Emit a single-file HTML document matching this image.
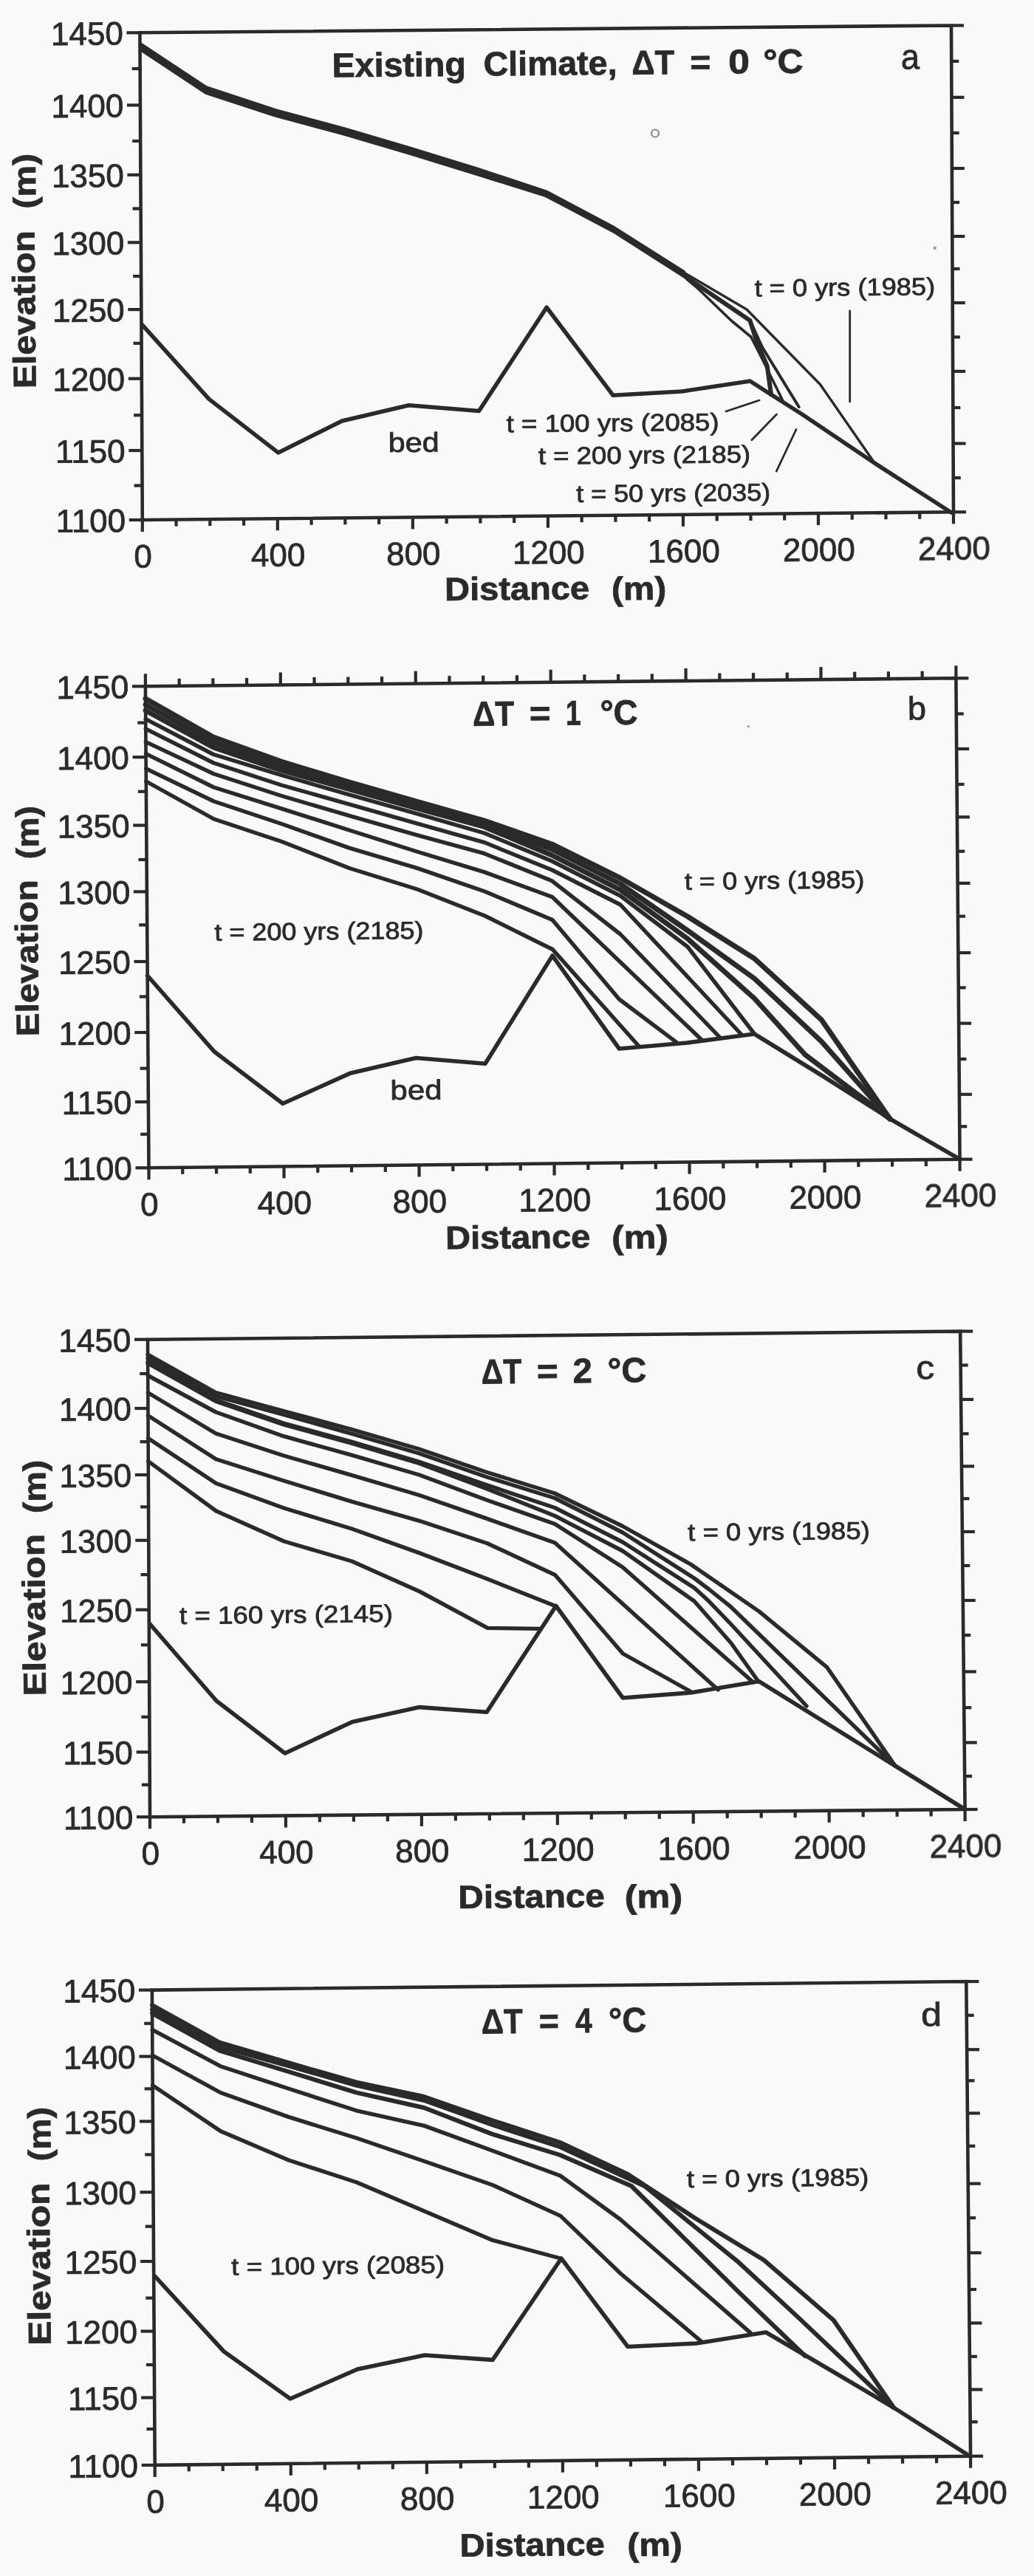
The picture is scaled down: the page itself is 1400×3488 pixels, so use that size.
<!DOCTYPE html>
<html><head><meta charset="utf-8"><style>
html,body{margin:0;padding:0;background:#f8f9f8;}
svg{display:block;}
text{font-family:"Liberation Sans",sans-serif;}
</style></head><body>
<svg width="1400" height="3488" viewBox="0 0 1400 3488">
<defs><filter id="soft" x="0" y="0" width="1" height="1"><feGaussianBlur stdDeviation="0.45"/></filter></defs>
<rect width="1400" height="3488" fill="#f8f9f8"/>
<g filter="url(#soft)">
<g stroke="#2b2b2b" stroke-linecap="butt" fill="none">
<polygon points="189.4,44.3 1288,34.5 1291,693.3 192.8,704" stroke-width="4.6" stroke-linejoin="miter"/>
<line x1="171.4" y1="44.3" x2="189.4" y2="44.3" stroke-width="4.2"/>
<line x1="178.65" y1="93" x2="189.65" y2="93" stroke-width="4.2"/>
<line x1="171.91" y1="142.4" x2="189.91" y2="142.4" stroke-width="4.2"/>
<line x1="179.16" y1="191" x2="190.16" y2="191" stroke-width="4.2"/>
<line x1="172.39" y1="236.8" x2="190.39" y2="236.8" stroke-width="4.2"/>
<line x1="179.63" y1="282.5" x2="190.63" y2="282.5" stroke-width="4.2"/>
<line x1="172.86" y1="328.3" x2="190.86" y2="328.3" stroke-width="4.2"/>
<line x1="180.1" y1="374" x2="191.1" y2="374" stroke-width="4.2"/>
<line x1="173.33" y1="419.1" x2="191.33" y2="419.1" stroke-width="4.2"/>
<line x1="180.57" y1="464.8" x2="191.57" y2="464.8" stroke-width="4.2"/>
<line x1="173.81" y1="512.7" x2="191.81" y2="512.7" stroke-width="4.2"/>
<line x1="181.07" y1="562.2" x2="192.07" y2="562.2" stroke-width="4.2"/>
<line x1="174.32" y1="610" x2="192.32" y2="610" stroke-width="4.2"/>
<line x1="181.56" y1="657.5" x2="192.56" y2="657.5" stroke-width="4.2"/>
<line x1="174.8" y1="704" x2="192.8" y2="704" stroke-width="4.2"/>
<line x1="1288" y1="34.5" x2="1305" y2="34.5" stroke-width="4.2"/>
<line x1="1288.22" y1="82.9" x2="1298.22" y2="82.9" stroke-width="4.2"/>
<line x1="1288.44" y1="131.8" x2="1305.44" y2="131.8" stroke-width="4.2"/>
<line x1="1288.66" y1="180" x2="1298.66" y2="180" stroke-width="4.2"/>
<line x1="1288.88" y1="228" x2="1305.88" y2="228" stroke-width="4.2"/>
<line x1="1289.09" y1="274" x2="1299.09" y2="274" stroke-width="4.2"/>
<line x1="1289.3" y1="320" x2="1306.3" y2="320" stroke-width="4.2"/>
<line x1="1289.5" y1="364" x2="1299.5" y2="364" stroke-width="4.2"/>
<line x1="1289.71" y1="410" x2="1306.71" y2="410" stroke-width="4.2"/>
<line x1="1289.92" y1="456.4" x2="1299.92" y2="456.4" stroke-width="4.2"/>
<line x1="1290.13" y1="502.8" x2="1307.13" y2="502.8" stroke-width="4.2"/>
<line x1="1290.36" y1="552" x2="1300.36" y2="552" stroke-width="4.2"/>
<line x1="1290.58" y1="600.5" x2="1307.58" y2="600.5" stroke-width="4.2"/>
<line x1="1290.79" y1="647" x2="1300.79" y2="647" stroke-width="4.2"/>
<line x1="1291" y1="693.3" x2="1308" y2="693.3" stroke-width="4.2"/>
<line x1="192.8" y1="704" x2="192.8" y2="720" stroke-width="4.2"/>
<line x1="238.56" y1="703.55" x2="238.56" y2="712.55" stroke-width="4.2"/>
<line x1="284.32" y1="703.11" x2="284.32" y2="712.11" stroke-width="4.2"/>
<line x1="330.08" y1="702.66" x2="330.08" y2="711.66" stroke-width="4.2"/>
<line x1="375.83" y1="702.22" x2="375.83" y2="718.22" stroke-width="4.2"/>
<line x1="421.59" y1="701.77" x2="421.59" y2="710.77" stroke-width="4.2"/>
<line x1="467.35" y1="701.33" x2="467.35" y2="710.33" stroke-width="4.2"/>
<line x1="513.11" y1="700.88" x2="513.11" y2="709.88" stroke-width="4.2"/>
<line x1="558.87" y1="700.43" x2="558.87" y2="716.43" stroke-width="4.2"/>
<line x1="604.62" y1="699.99" x2="604.62" y2="708.99" stroke-width="4.2"/>
<line x1="650.38" y1="699.54" x2="650.38" y2="708.54" stroke-width="4.2"/>
<line x1="696.14" y1="699.1" x2="696.14" y2="708.1" stroke-width="4.2"/>
<line x1="741.9" y1="698.65" x2="741.9" y2="714.65" stroke-width="4.2"/>
<line x1="787.66" y1="698.2" x2="787.66" y2="707.2" stroke-width="4.2"/>
<line x1="833.42" y1="697.76" x2="833.42" y2="706.76" stroke-width="4.2"/>
<line x1="879.17" y1="697.31" x2="879.17" y2="706.31" stroke-width="4.2"/>
<line x1="924.93" y1="696.87" x2="924.93" y2="712.87" stroke-width="4.2"/>
<line x1="970.69" y1="696.42" x2="970.69" y2="705.42" stroke-width="4.2"/>
<line x1="1016.45" y1="695.97" x2="1016.45" y2="704.97" stroke-width="4.2"/>
<line x1="1062.21" y1="695.53" x2="1062.21" y2="704.53" stroke-width="4.2"/>
<line x1="1107.97" y1="695.08" x2="1107.97" y2="711.08" stroke-width="4.2"/>
<line x1="1153.73" y1="694.64" x2="1153.73" y2="703.64" stroke-width="4.2"/>
<line x1="1199.48" y1="694.19" x2="1199.48" y2="703.19" stroke-width="4.2"/>
<line x1="1245.24" y1="693.75" x2="1245.24" y2="702.75" stroke-width="4.2"/>
<line x1="1291" y1="693.3" x2="1291" y2="709.3" stroke-width="4.2"/>
</g>
<g stroke="#2b2b2b" stroke-linecap="butt" fill="none">
<polygon points="196.9,929.3 1294.4,918.3 1299.6,1569.7 201.5,1581.3" stroke-width="4.6" stroke-linejoin="miter"/>
<line x1="178.9" y1="929.3" x2="196.9" y2="929.3" stroke-width="4.2"/>
<line x1="186.25" y1="978.6" x2="197.25" y2="978.6" stroke-width="4.2"/>
<line x1="179.58" y1="1025.2" x2="197.58" y2="1025.2" stroke-width="4.2"/>
<line x1="186.91" y1="1071.8" x2="197.91" y2="1071.8" stroke-width="4.2"/>
<line x1="180.23" y1="1117.5" x2="198.23" y2="1117.5" stroke-width="4.2"/>
<line x1="187.56" y1="1164" x2="198.56" y2="1164" stroke-width="4.2"/>
<line x1="180.86" y1="1207.4" x2="198.86" y2="1207.4" stroke-width="4.2"/>
<line x1="188.18" y1="1252.4" x2="199.18" y2="1252.4" stroke-width="4.2"/>
<line x1="181.53" y1="1302" x2="199.53" y2="1302" stroke-width="4.2"/>
<line x1="188.86" y1="1349.5" x2="199.86" y2="1349.5" stroke-width="4.2"/>
<line x1="182.21" y1="1398" x2="200.21" y2="1398" stroke-width="4.2"/>
<line x1="189.55" y1="1446.6" x2="200.55" y2="1446.6" stroke-width="4.2"/>
<line x1="182.87" y1="1492" x2="200.87" y2="1492" stroke-width="4.2"/>
<line x1="190.18" y1="1535.8" x2="201.18" y2="1535.8" stroke-width="4.2"/>
<line x1="183.5" y1="1581.3" x2="201.5" y2="1581.3" stroke-width="4.2"/>
<line x1="1294.4" y1="918.3" x2="1311.4" y2="918.3" stroke-width="4.2"/>
<line x1="1294.78" y1="966.5" x2="1304.78" y2="966.5" stroke-width="4.2"/>
<line x1="1295.16" y1="1014" x2="1312.16" y2="1014" stroke-width="4.2"/>
<line x1="1295.55" y1="1062" x2="1305.55" y2="1062" stroke-width="4.2"/>
<line x1="1295.9" y1="1106.3" x2="1312.9" y2="1106.3" stroke-width="4.2"/>
<line x1="1296.27" y1="1152.7" x2="1306.27" y2="1152.7" stroke-width="4.2"/>
<line x1="1296.62" y1="1195.88" x2="1313.62" y2="1195.88" stroke-width="4.2"/>
<line x1="1296.97" y1="1240.67" x2="1306.97" y2="1240.67" stroke-width="4.2"/>
<line x1="1297.37" y1="1290.05" x2="1314.37" y2="1290.05" stroke-width="4.2"/>
<line x1="1297.75" y1="1337.33" x2="1307.75" y2="1337.33" stroke-width="4.2"/>
<line x1="1298.13" y1="1385.62" x2="1315.13" y2="1385.62" stroke-width="4.2"/>
<line x1="1298.52" y1="1434" x2="1308.52" y2="1434" stroke-width="4.2"/>
<line x1="1298.9" y1="1481.8" x2="1315.9" y2="1481.8" stroke-width="4.2"/>
<line x1="1299.25" y1="1525.3" x2="1309.25" y2="1525.3" stroke-width="4.2"/>
<line x1="1299.6" y1="1569.7" x2="1316.6" y2="1569.7" stroke-width="4.2"/>
<line x1="201.5" y1="1581.3" x2="201.5" y2="1597.3" stroke-width="4.2"/>
<line x1="196.9" y1="912.3" x2="196.9" y2="929.3" stroke-width="4.2"/>
<line x1="247.25" y1="1580.82" x2="247.25" y2="1589.82" stroke-width="4.2"/>
<line x1="242.63" y1="918.84" x2="242.63" y2="928.84" stroke-width="4.2"/>
<line x1="293.01" y1="1580.33" x2="293.01" y2="1589.33" stroke-width="4.2"/>
<line x1="288.36" y1="918.38" x2="288.36" y2="928.38" stroke-width="4.2"/>
<line x1="338.76" y1="1579.85" x2="338.76" y2="1588.85" stroke-width="4.2"/>
<line x1="334.09" y1="917.92" x2="334.09" y2="927.92" stroke-width="4.2"/>
<line x1="384.52" y1="1579.37" x2="384.52" y2="1595.37" stroke-width="4.2"/>
<line x1="379.82" y1="910.47" x2="379.82" y2="927.47" stroke-width="4.2"/>
<line x1="430.27" y1="1578.88" x2="430.27" y2="1587.88" stroke-width="4.2"/>
<line x1="425.55" y1="917.01" x2="425.55" y2="927.01" stroke-width="4.2"/>
<line x1="476.02" y1="1578.4" x2="476.02" y2="1587.4" stroke-width="4.2"/>
<line x1="471.27" y1="916.55" x2="471.27" y2="926.55" stroke-width="4.2"/>
<line x1="521.78" y1="1577.92" x2="521.78" y2="1586.92" stroke-width="4.2"/>
<line x1="517" y1="916.09" x2="517" y2="926.09" stroke-width="4.2"/>
<line x1="567.53" y1="1577.43" x2="567.53" y2="1593.43" stroke-width="4.2"/>
<line x1="562.73" y1="908.63" x2="562.73" y2="925.63" stroke-width="4.2"/>
<line x1="613.29" y1="1576.95" x2="613.29" y2="1585.95" stroke-width="4.2"/>
<line x1="608.46" y1="915.17" x2="608.46" y2="925.17" stroke-width="4.2"/>
<line x1="659.04" y1="1576.47" x2="659.04" y2="1585.47" stroke-width="4.2"/>
<line x1="654.19" y1="914.72" x2="654.19" y2="924.72" stroke-width="4.2"/>
<line x1="704.8" y1="1575.98" x2="704.8" y2="1584.98" stroke-width="4.2"/>
<line x1="699.92" y1="914.26" x2="699.92" y2="924.26" stroke-width="4.2"/>
<line x1="750.55" y1="1575.5" x2="750.55" y2="1591.5" stroke-width="4.2"/>
<line x1="745.65" y1="906.8" x2="745.65" y2="923.8" stroke-width="4.2"/>
<line x1="796.3" y1="1575.02" x2="796.3" y2="1584.02" stroke-width="4.2"/>
<line x1="791.38" y1="913.34" x2="791.38" y2="923.34" stroke-width="4.2"/>
<line x1="842.06" y1="1574.53" x2="842.06" y2="1583.53" stroke-width="4.2"/>
<line x1="837.11" y1="912.88" x2="837.11" y2="922.88" stroke-width="4.2"/>
<line x1="887.81" y1="1574.05" x2="887.81" y2="1583.05" stroke-width="4.2"/>
<line x1="882.84" y1="912.42" x2="882.84" y2="922.42" stroke-width="4.2"/>
<line x1="933.57" y1="1573.57" x2="933.57" y2="1589.57" stroke-width="4.2"/>
<line x1="928.57" y1="904.97" x2="928.57" y2="921.97" stroke-width="4.2"/>
<line x1="979.32" y1="1573.08" x2="979.32" y2="1582.08" stroke-width="4.2"/>
<line x1="974.3" y1="911.51" x2="974.3" y2="921.51" stroke-width="4.2"/>
<line x1="1025.07" y1="1572.6" x2="1025.07" y2="1581.6" stroke-width="4.2"/>
<line x1="1020.02" y1="911.05" x2="1020.02" y2="921.05" stroke-width="4.2"/>
<line x1="1070.83" y1="1572.12" x2="1070.83" y2="1581.12" stroke-width="4.2"/>
<line x1="1065.75" y1="910.59" x2="1065.75" y2="920.59" stroke-width="4.2"/>
<line x1="1116.58" y1="1571.63" x2="1116.58" y2="1587.63" stroke-width="4.2"/>
<line x1="1111.48" y1="903.13" x2="1111.48" y2="920.13" stroke-width="4.2"/>
<line x1="1162.34" y1="1571.15" x2="1162.34" y2="1580.15" stroke-width="4.2"/>
<line x1="1157.21" y1="909.67" x2="1157.21" y2="919.67" stroke-width="4.2"/>
<line x1="1208.09" y1="1570.67" x2="1208.09" y2="1579.67" stroke-width="4.2"/>
<line x1="1202.94" y1="909.22" x2="1202.94" y2="919.22" stroke-width="4.2"/>
<line x1="1253.85" y1="1570.18" x2="1253.85" y2="1579.18" stroke-width="4.2"/>
<line x1="1248.67" y1="908.76" x2="1248.67" y2="918.76" stroke-width="4.2"/>
<line x1="1299.6" y1="1569.7" x2="1299.6" y2="1585.7" stroke-width="4.2"/>
<line x1="1294.4" y1="901.3" x2="1294.4" y2="918.3" stroke-width="4.2"/>
</g>
<g stroke="#2b2b2b" stroke-linecap="butt" fill="none">
<polygon points="200,1813.7 1300.2,1802.6 1306.6,2450 203,2460.2" stroke-width="4.6" stroke-linejoin="miter"/>
<line x1="182" y1="1813.7" x2="200" y2="1813.7" stroke-width="4.2"/>
<line x1="189.21" y1="1860" x2="200.21" y2="1860" stroke-width="4.2"/>
<line x1="182.43" y1="1907" x2="200.43" y2="1907" stroke-width="4.2"/>
<line x1="189.64" y1="1952.2" x2="200.64" y2="1952.2" stroke-width="4.2"/>
<line x1="182.85" y1="1997" x2="200.85" y2="1997" stroke-width="4.2"/>
<line x1="190.05" y1="2040.4" x2="201.05" y2="2040.4" stroke-width="4.2"/>
<line x1="183.26" y1="2085.7" x2="201.26" y2="2085.7" stroke-width="4.2"/>
<line x1="190.48" y1="2132.1" x2="201.48" y2="2132.1" stroke-width="4.2"/>
<line x1="183.7" y1="2179.7" x2="201.7" y2="2179.7" stroke-width="4.2"/>
<line x1="190.92" y1="2227.3" x2="201.92" y2="2227.3" stroke-width="4.2"/>
<line x1="184.15" y1="2277.2" x2="202.15" y2="2277.2" stroke-width="4.2"/>
<line x1="191.37" y1="2324.8" x2="202.37" y2="2324.8" stroke-width="4.2"/>
<line x1="184.59" y1="2372.4" x2="202.59" y2="2372.4" stroke-width="4.2"/>
<line x1="191.8" y1="2416.7" x2="202.8" y2="2416.7" stroke-width="4.2"/>
<line x1="185" y1="2460.2" x2="203" y2="2460.2" stroke-width="4.2"/>
<line x1="1300.2" y1="1802.6" x2="1317.2" y2="1802.6" stroke-width="4.2"/>
<line x1="1300.65" y1="1848.5" x2="1310.65" y2="1848.5" stroke-width="4.2"/>
<line x1="1301.11" y1="1894.9" x2="1318.11" y2="1894.9" stroke-width="4.2"/>
<line x1="1301.57" y1="1941.3" x2="1311.57" y2="1941.3" stroke-width="4.2"/>
<line x1="1302.01" y1="1985.4" x2="1319.01" y2="1985.4" stroke-width="4.2"/>
<line x1="1302.44" y1="2029.2" x2="1312.44" y2="2029.2" stroke-width="4.2"/>
<line x1="1302.88" y1="2074" x2="1319.88" y2="2074" stroke-width="4.2"/>
<line x1="1303.34" y1="2119.9" x2="1313.34" y2="2119.9" stroke-width="4.2"/>
<line x1="1303.8" y1="2167" x2="1320.8" y2="2167" stroke-width="4.2"/>
<line x1="1304.27" y1="2214.1" x2="1314.27" y2="2214.1" stroke-width="4.2"/>
<line x1="1304.76" y1="2263.5" x2="1321.76" y2="2263.5" stroke-width="4.2"/>
<line x1="1305.24" y1="2312.2" x2="1315.24" y2="2312.2" stroke-width="4.2"/>
<line x1="1305.71" y1="2359.5" x2="1322.71" y2="2359.5" stroke-width="4.2"/>
<line x1="1306.16" y1="2405" x2="1316.16" y2="2405" stroke-width="4.2"/>
<line x1="1306.6" y1="2450" x2="1323.6" y2="2450" stroke-width="4.2"/>
<line x1="203" y1="2460.2" x2="203" y2="2476.2" stroke-width="4.2"/>
<line x1="248.98" y1="2459.77" x2="248.98" y2="2468.77" stroke-width="4.2"/>
<line x1="294.97" y1="2459.35" x2="294.97" y2="2468.35" stroke-width="4.2"/>
<line x1="340.95" y1="2458.92" x2="340.95" y2="2467.92" stroke-width="4.2"/>
<line x1="386.93" y1="2458.5" x2="386.93" y2="2474.5" stroke-width="4.2"/>
<line x1="432.92" y1="2458.07" x2="432.92" y2="2467.07" stroke-width="4.2"/>
<line x1="478.9" y1="2457.65" x2="478.9" y2="2466.65" stroke-width="4.2"/>
<line x1="524.88" y1="2457.22" x2="524.88" y2="2466.22" stroke-width="4.2"/>
<line x1="570.87" y1="2456.8" x2="570.87" y2="2472.8" stroke-width="4.2"/>
<line x1="616.85" y1="2456.38" x2="616.85" y2="2465.38" stroke-width="4.2"/>
<line x1="662.83" y1="2455.95" x2="662.83" y2="2464.95" stroke-width="4.2"/>
<line x1="708.82" y1="2455.53" x2="708.82" y2="2464.53" stroke-width="4.2"/>
<line x1="754.8" y1="2455.1" x2="754.8" y2="2471.1" stroke-width="4.2"/>
<line x1="800.78" y1="2454.67" x2="800.78" y2="2463.67" stroke-width="4.2"/>
<line x1="846.77" y1="2454.25" x2="846.77" y2="2463.25" stroke-width="4.2"/>
<line x1="892.75" y1="2453.82" x2="892.75" y2="2462.82" stroke-width="4.2"/>
<line x1="938.73" y1="2453.4" x2="938.73" y2="2469.4" stroke-width="4.2"/>
<line x1="984.72" y1="2452.97" x2="984.72" y2="2461.97" stroke-width="4.2"/>
<line x1="1030.7" y1="2452.55" x2="1030.7" y2="2461.55" stroke-width="4.2"/>
<line x1="1076.68" y1="2452.12" x2="1076.68" y2="2461.12" stroke-width="4.2"/>
<line x1="1122.67" y1="2451.7" x2="1122.67" y2="2467.7" stroke-width="4.2"/>
<line x1="1168.65" y1="2451.28" x2="1168.65" y2="2460.28" stroke-width="4.2"/>
<line x1="1214.63" y1="2450.85" x2="1214.63" y2="2459.85" stroke-width="4.2"/>
<line x1="1260.62" y1="2450.43" x2="1260.62" y2="2459.43" stroke-width="4.2"/>
<line x1="1306.6" y1="2450" x2="1306.6" y2="2466" stroke-width="4.2"/>
</g>
<g stroke="#2b2b2b" stroke-linecap="butt" fill="none">
<polygon points="205.9,2694.6 1308.3,2683 1314.1,3325.7 209.7,3337.9" stroke-width="4.6" stroke-linejoin="miter"/>
<line x1="187.9" y1="2694.6" x2="205.9" y2="2694.6" stroke-width="4.2"/>
<line x1="195.17" y1="2739.8" x2="206.17" y2="2739.8" stroke-width="4.2"/>
<line x1="188.43" y1="2784.5" x2="206.43" y2="2784.5" stroke-width="4.2"/>
<line x1="195.69" y1="2828.3" x2="206.69" y2="2828.3" stroke-width="4.2"/>
<line x1="188.95" y1="2872.4" x2="206.95" y2="2872.4" stroke-width="4.2"/>
<line x1="196.22" y1="2917.4" x2="207.22" y2="2917.4" stroke-width="4.2"/>
<line x1="189.52" y1="2968.3" x2="207.52" y2="2968.3" stroke-width="4.2"/>
<line x1="196.79" y1="3014.7" x2="207.79" y2="3014.7" stroke-width="4.2"/>
<line x1="190.07" y1="3062" x2="208.07" y2="3062" stroke-width="4.2"/>
<line x1="197.36" y1="3111.6" x2="208.36" y2="3111.6" stroke-width="4.2"/>
<line x1="190.63" y1="3156.6" x2="208.63" y2="3156.6" stroke-width="4.2"/>
<line x1="197.9" y1="3202" x2="208.9" y2="3202" stroke-width="4.2"/>
<line x1="191.16" y1="3246.5" x2="209.16" y2="3246.5" stroke-width="4.2"/>
<line x1="198.41" y1="3289" x2="209.41" y2="3289" stroke-width="4.2"/>
<line x1="191.7" y1="3337.9" x2="209.7" y2="3337.9" stroke-width="4.2"/>
<line x1="1308.3" y1="2683" x2="1325.3" y2="2683" stroke-width="4.2"/>
<line x1="1308.71" y1="2728.8" x2="1318.71" y2="2728.8" stroke-width="4.2"/>
<line x1="1309.13" y1="2775.2" x2="1326.13" y2="2775.2" stroke-width="4.2"/>
<line x1="1309.51" y1="2817.3" x2="1319.51" y2="2817.3" stroke-width="4.2"/>
<line x1="1309.91" y1="2861.4" x2="1326.91" y2="2861.4" stroke-width="4.2"/>
<line x1="1310.31" y1="2905.8" x2="1320.31" y2="2905.8" stroke-width="4.2"/>
<line x1="1310.77" y1="2956.7" x2="1327.77" y2="2956.7" stroke-width="4.2"/>
<line x1="1311.19" y1="3003.1" x2="1321.19" y2="3003.1" stroke-width="4.2"/>
<line x1="1311.62" y1="3050.4" x2="1328.62" y2="3050.4" stroke-width="4.2"/>
<line x1="1312.06" y1="3100" x2="1322.06" y2="3100" stroke-width="4.2"/>
<line x1="1312.47" y1="3145.5" x2="1329.47" y2="3145.5" stroke-width="4.2"/>
<line x1="1312.88" y1="3190.8" x2="1322.88" y2="3190.8" stroke-width="4.2"/>
<line x1="1313.29" y1="3235.5" x2="1330.29" y2="3235.5" stroke-width="4.2"/>
<line x1="1313.68" y1="3279.3" x2="1323.68" y2="3279.3" stroke-width="4.2"/>
<line x1="1314.1" y1="3325.7" x2="1331.1" y2="3325.7" stroke-width="4.2"/>
<line x1="209.7" y1="3337.9" x2="209.7" y2="3353.9" stroke-width="4.2"/>
<line x1="255.72" y1="3337.39" x2="255.72" y2="3346.39" stroke-width="4.2"/>
<line x1="301.73" y1="3336.88" x2="301.73" y2="3345.88" stroke-width="4.2"/>
<line x1="347.75" y1="3336.38" x2="347.75" y2="3345.38" stroke-width="4.2"/>
<line x1="393.77" y1="3335.87" x2="393.77" y2="3351.87" stroke-width="4.2"/>
<line x1="439.78" y1="3335.36" x2="439.78" y2="3344.36" stroke-width="4.2"/>
<line x1="485.8" y1="3334.85" x2="485.8" y2="3343.85" stroke-width="4.2"/>
<line x1="531.82" y1="3334.34" x2="531.82" y2="3343.34" stroke-width="4.2"/>
<line x1="577.83" y1="3333.83" x2="577.83" y2="3349.83" stroke-width="4.2"/>
<line x1="623.85" y1="3333.32" x2="623.85" y2="3342.32" stroke-width="4.2"/>
<line x1="669.87" y1="3332.82" x2="669.87" y2="3341.82" stroke-width="4.2"/>
<line x1="715.88" y1="3332.31" x2="715.88" y2="3341.31" stroke-width="4.2"/>
<line x1="761.9" y1="3331.8" x2="761.9" y2="3347.8" stroke-width="4.2"/>
<line x1="807.92" y1="3331.29" x2="807.92" y2="3340.29" stroke-width="4.2"/>
<line x1="853.93" y1="3330.78" x2="853.93" y2="3339.78" stroke-width="4.2"/>
<line x1="899.95" y1="3330.28" x2="899.95" y2="3339.28" stroke-width="4.2"/>
<line x1="945.97" y1="3329.77" x2="945.97" y2="3345.77" stroke-width="4.2"/>
<line x1="991.98" y1="3329.26" x2="991.98" y2="3338.26" stroke-width="4.2"/>
<line x1="1038" y1="3328.75" x2="1038" y2="3337.75" stroke-width="4.2"/>
<line x1="1084.02" y1="3328.24" x2="1084.02" y2="3337.24" stroke-width="4.2"/>
<line x1="1130.03" y1="3327.73" x2="1130.03" y2="3343.73" stroke-width="4.2"/>
<line x1="1176.05" y1="3327.22" x2="1176.05" y2="3336.22" stroke-width="4.2"/>
<line x1="1222.07" y1="3326.72" x2="1222.07" y2="3335.72" stroke-width="4.2"/>
<line x1="1268.08" y1="3326.21" x2="1268.08" y2="3335.21" stroke-width="4.2"/>
<line x1="1314.1" y1="3325.7" x2="1314.1" y2="3341.7" stroke-width="4.2"/>
</g>
<g stroke="#2b2b2b" fill="none" stroke-linejoin="round" stroke-linecap="round">
<polyline points="191,61 279,119.2 373,150.1 465,174.8 556.5,201.8 648,230 740,260.6 831,309 925,368.5" stroke-width="6.0"/>
<polyline points="925,368.5 1011,419 1110.5,520.5 1183.5,626" stroke-width="3.4"/>
<polyline points="191,66.6 279,124.8 373,155.7 465,180.4 556.5,207.4 648,235.6 740,264.5 831,312.5 925,372.5 1015.5,434 1025,464 1038.7,495.4 1044,534" stroke-width="6.0"/>
<polyline points="1015.5,434 1032,470 1081.7,551" stroke-width="4.0"/>
<polyline points="930,378 943.5,389.3 990,434 1016.7,456 1030,482 1059.6,542" stroke-width="3.6"/>
<polyline points="193,440.3 283,540.4 376.7,612.9 463,570 553.5,548.7 648.5,556.5 740.1,416.3 830,535.2 923,530 1015.5,516 1085.3,560.5 1183.3,626.5 1288,694" stroke-width="5.6"/>
<polyline points="1150.7,421 1150.7,544" stroke-width="2.8"/>
<polyline points="983,557 1028,542" stroke-width="2.8"/>
<polyline points="1017.8,595.8 1051.5,561" stroke-width="2.8"/>
<polyline points="1051.3,638 1078,581.5" stroke-width="2.8"/>
<polyline points="197.02,946 288.84,998 380.53,1031 472.18,1058.9 563.83,1085.1 655.47,1111 747.15,1143 840,1189 931,1241 1021.5,1298 1112,1380.6 1205,1515" stroke-width="7.0"/>
<polyline points="197.08,954 288.89,1005 380.57,1037 472.22,1063.5 563.86,1090 655.49,1115 747.2,1150 840,1197 931,1260 1021.5,1325 1112,1410 1205,1515" stroke-width="7.0"/>
<polyline points="197.13,962 288.94,1012 380.61,1043 472.25,1068.3 563.89,1094.3 655.53,1119.5 747.25,1158 840,1205 931,1271 1021.5,1352 1090,1428 1205,1515" stroke-width="7.0"/>
<polyline points="197.21,973.7 289.01,1021.5 380.66,1049.5 472.3,1075.9 563.94,1101.7 655.58,1128 747.31,1166 840,1213 931,1282 1021.5,1400" stroke-width="5.4"/>
<polyline points="197.3,986.8 289.09,1033 380.75,1063 472.39,1088.8 564.03,1114.8 655.67,1140.6 747.39,1178 840,1225 1005,1402" stroke-width="5.4"/>
<polyline points="197.43,1004.6 289.19,1047.7 380.86,1077.5 472.5,1104.4 564.14,1130.6 655.78,1155.7 747.5,1192.8 840,1265 975,1405" stroke-width="5.4"/>
<polyline points="197.54,1020.6 289.32,1066 380.98,1094.8 472.64,1124 564.3,1153 655.95,1180.9 747.65,1214.5 950,1408" stroke-width="5.4"/>
<polyline points="197.68,1040.8 289.45,1085 381.12,1115.5 472.81,1148.1 564.46,1175.4 656.14,1207 747.87,1245.5 838.4,1353 915.7,1411.2" stroke-width="5.4"/>
<polyline points="197.8,1058 289.62,1109 381.29,1139.5 473,1175.5 564.66,1204 656.37,1240 748.15,1285.5 865.4,1417" stroke-width="5.4"/>
<polyline points="199.6,1321 290.5,1424.3 382.9,1494.3 475,1452.9 563.2,1432.5 657,1440.2 748,1294 838.4,1420 930,1412 1021.4,1400 1114,1457 1205,1515 1299.6,1569.7" stroke-width="5.6"/>
<polyline points="200.09,1834 292.01,1885.5 383.81,1910.5 475.61,1935.4 567.42,1962 659.24,1993.5 751.06,2022 843,2066.5 935,2118 1027.7,2181.9 1119.8,2257.7 1212,2391" stroke-width="5.4"/>
<polyline points="200.12,1839 292.04,1890.5 383.83,1915.5 475.64,1941.1 567.44,1968 659.27,2000 751.09,2028.5 843,2075 940,2137 960,2152 990,2176.2 1212,2391" stroke-width="5.4"/>
<polyline points="200.14,1844 292.06,1895.5 383.89,1927 475.69,1952.1 567.5,1979.4 659.32,2010.9 751.15,2041.5 843,2088 940,2150 960,2168.3 990,2199.5 1092,2310" stroke-width="5.4"/>
<polyline points="200.15,1846 292.07,1897.5 383.9,1929 475.7,1954.1 567.5,1981.4 659.35,2015.9 751.2,2052.5 843,2100 940,2168 990,2225 1027,2277" stroke-width="5.4"/>
<polyline points="200.22,1862.5 292.14,1912 383.97,1944.7 475.77,1970.2 567.58,1997 659.42,2031.3 751.25,2063.5 843,2122 1020,2278" stroke-width="5.4"/>
<polyline points="200.33,1885.8 292.27,1941 384.09,1971 475.89,1997.3 567.7,2024.5 659.53,2056.4 751.37,2089 972.3,2288" stroke-width="5.4"/>
<polyline points="200.47,1916.7 292.43,1975.7 384.25,2005 476.06,2033.1 567.86,2059.3 659.69,2089.8 751.57,2132.5 843.3,2239 934.5,2290.1" stroke-width="5.4"/>
<polyline points="200.62,1947.6 292.58,2008.5 384.42,2042 476.23,2070 568.06,2102.9 659.91,2138 751.76,2174.5" stroke-width="5.4"/>
<polyline points="200.76,1978.6 292.75,2046 384.62,2087 476.43,2114 568.3,2155 660.21,2204.4 729.6,2205.4" stroke-width="5.4"/>
<polyline points="203,2199 293,2303 385.8,2374 477,2331.5 568,2311.6 659,2318.3 752.8,2174.5 843.3,2299 935,2292 1027.7,2276.6 1119.5,2333.7 1212,2391 1306.6,2450" stroke-width="5.6"/>
<polyline points="206.02,2715 298.19,2766 390.21,2793 482.24,2819.5 574.22,2839 666.27,2871 758.32,2901 850,2944 942,3004 1034,3060 1128.5,3141.5 1210,3260" stroke-width="6.0"/>
<polyline points="206.06,2721 298.22,2771.5 390.24,2797 482.26,2823.5 574.25,2844 666.31,2877 758.35,2907 872.7,2960 1000,3063.2 1080,3137.1 1210,3260" stroke-width="6.0"/>
<polyline points="206.09,2726 298.25,2777 390.28,2805 482.32,2833.4 574.31,2854 666.38,2889.6 758.42,2918 855,2960 1000,3103.4 1090,3190" stroke-width="6.0"/>
<polyline points="206.22,2748.4 298.37,2797.7 390.42,2828 482.46,2857.8 574.45,2878.4 666.52,2912 758.58,2946 840,3005.3 1016,3158.6" stroke-width="5.4"/>
<polyline points="206.42,2783 298.59,2833.5 390.65,2866.4 482.68,2895 574.73,2926.5 666.79,2958.5 758.9,3000.4 840,3078.2 950.6,3171.2" stroke-width="5.4"/>
<polyline points="206.66,2823.8 298.89,2885.7 390.99,2925 483.04,2955 575.13,2994.2 667.23,3033.4 759.24,3058" stroke-width="5.4"/>
<polyline points="209.5,3081.8 303.1,3184 393,3248 484,3208 575,3189 667,3195.4 760,3058 850,3177.5 943,3173 1037,3158 1124,3209 1210,3260 1313,3325.7" stroke-width="5.6"/>
</g>
<circle cx="887" cy="180.5" r="5" fill="none" stroke="#8a8a8a" stroke-width="2.2"/>
<circle cx="1265.7" cy="335.8" r="2.2" fill="#9a9a9a"/>
<circle cx="1013.3" cy="983.7" r="1.6" fill="#9a9a9a"/>
<g fill="#2b2b2b" stroke="#2b2b2b" stroke-width="0.8">
<text x="166.9" y="60.3" font-size="44" text-anchor="end" transform="rotate(-0.511 166.9 60.3)">1450</text>
<text x="167.41" y="158.4" font-size="44" text-anchor="end" transform="rotate(-0.511 167.41 158.4)">1400</text>
<text x="167.89" y="252.8" font-size="44" text-anchor="end" transform="rotate(-0.511 167.89 252.8)">1350</text>
<text x="168.36" y="344.3" font-size="44" text-anchor="end" transform="rotate(-0.511 168.36 344.3)">1300</text>
<text x="168.83" y="435.1" font-size="44" text-anchor="end" transform="rotate(-0.511 168.83 435.1)">1250</text>
<text x="169.31" y="528.7" font-size="44" text-anchor="end" transform="rotate(-0.511 169.31 528.7)">1200</text>
<text x="169.82" y="626" font-size="44" text-anchor="end" transform="rotate(-0.511 169.82 626)">1150</text>
<text x="170.3" y="720" font-size="44" text-anchor="end" transform="rotate(-0.511 170.3 720)">1100</text>
<text x="193.8" y="768.5" font-size="44" text-anchor="middle" transform="rotate(-0.511 193.8 768.5)">0</text>
<text x="376.83" y="766.72" font-size="44" text-anchor="middle" transform="rotate(-0.511 376.83 766.72)">400</text>
<text x="559.87" y="764.93" font-size="44" text-anchor="middle" transform="rotate(-0.511 559.87 764.93)">800</text>
<text x="742.9" y="763.15" font-size="44" text-anchor="middle" transform="rotate(-0.511 742.9 763.15)">1200</text>
<text x="925.93" y="761.37" font-size="44" text-anchor="middle" transform="rotate(-0.511 925.93 761.37)">1600</text>
<text x="1108.97" y="759.58" font-size="44" text-anchor="middle" transform="rotate(-0.511 1108.97 759.58)">2000</text>
<text x="1292" y="757.8" font-size="44" text-anchor="middle" transform="rotate(-0.511 1292 757.8)">2400</text>
<text x="174.4" y="945.3" font-size="44" text-anchor="end" transform="rotate(-0.574 174.4 945.3)">1450</text>
<text x="175.08" y="1041.2" font-size="44" text-anchor="end" transform="rotate(-0.574 175.08 1041.2)">1400</text>
<text x="175.73" y="1133.5" font-size="44" text-anchor="end" transform="rotate(-0.574 175.73 1133.5)">1350</text>
<text x="176.36" y="1223.4" font-size="44" text-anchor="end" transform="rotate(-0.574 176.36 1223.4)">1300</text>
<text x="177.03" y="1318" font-size="44" text-anchor="end" transform="rotate(-0.574 177.03 1318)">1250</text>
<text x="177.71" y="1414" font-size="44" text-anchor="end" transform="rotate(-0.574 177.71 1414)">1200</text>
<text x="178.37" y="1508" font-size="44" text-anchor="end" transform="rotate(-0.574 178.37 1508)">1150</text>
<text x="179" y="1597.3" font-size="44" text-anchor="end" transform="rotate(-0.574 179 1597.3)">1100</text>
<text x="202.5" y="1645.8" font-size="44" text-anchor="middle" transform="rotate(-0.574 202.5 1645.8)">0</text>
<text x="385.52" y="1643.87" font-size="44" text-anchor="middle" transform="rotate(-0.574 385.52 1643.87)">400</text>
<text x="568.53" y="1641.93" font-size="44" text-anchor="middle" transform="rotate(-0.574 568.53 1641.93)">800</text>
<text x="751.55" y="1640" font-size="44" text-anchor="middle" transform="rotate(-0.574 751.55 1640)">1200</text>
<text x="934.57" y="1638.07" font-size="44" text-anchor="middle" transform="rotate(-0.574 934.57 1638.07)">1600</text>
<text x="1117.58" y="1636.13" font-size="44" text-anchor="middle" transform="rotate(-0.574 1117.58 1636.13)">2000</text>
<text x="1300.6" y="1634.2" font-size="44" text-anchor="middle" transform="rotate(-0.574 1300.6 1634.2)">2400</text>
<text x="177.5" y="1829.7" font-size="44" text-anchor="end" transform="rotate(-0.578 177.5 1829.7)">1450</text>
<text x="177.93" y="1923" font-size="44" text-anchor="end" transform="rotate(-0.578 177.93 1923)">1400</text>
<text x="178.35" y="2013" font-size="44" text-anchor="end" transform="rotate(-0.578 178.35 2013)">1350</text>
<text x="178.76" y="2101.7" font-size="44" text-anchor="end" transform="rotate(-0.578 178.76 2101.7)">1300</text>
<text x="179.2" y="2195.7" font-size="44" text-anchor="end" transform="rotate(-0.578 179.2 2195.7)">1250</text>
<text x="179.65" y="2293.2" font-size="44" text-anchor="end" transform="rotate(-0.578 179.65 2293.2)">1200</text>
<text x="180.09" y="2388.4" font-size="44" text-anchor="end" transform="rotate(-0.578 180.09 2388.4)">1150</text>
<text x="180.5" y="2476.2" font-size="44" text-anchor="end" transform="rotate(-0.578 180.5 2476.2)">1100</text>
<text x="204" y="2524.7" font-size="44" text-anchor="middle" transform="rotate(-0.578 204 2524.7)">0</text>
<text x="387.93" y="2523" font-size="44" text-anchor="middle" transform="rotate(-0.578 387.93 2523)">400</text>
<text x="571.87" y="2521.3" font-size="44" text-anchor="middle" transform="rotate(-0.578 571.87 2521.3)">800</text>
<text x="755.8" y="2519.6" font-size="44" text-anchor="middle" transform="rotate(-0.578 755.8 2519.6)">1200</text>
<text x="939.73" y="2517.9" font-size="44" text-anchor="middle" transform="rotate(-0.578 939.73 2517.9)">1600</text>
<text x="1123.67" y="2516.2" font-size="44" text-anchor="middle" transform="rotate(-0.578 1123.67 2516.2)">2000</text>
<text x="1307.6" y="2514.5" font-size="44" text-anchor="middle" transform="rotate(-0.578 1307.6 2514.5)">2400</text>
<text x="183.4" y="2710.6" font-size="44" text-anchor="end" transform="rotate(-0.603 183.4 2710.6)">1450</text>
<text x="183.93" y="2800.5" font-size="44" text-anchor="end" transform="rotate(-0.603 183.93 2800.5)">1400</text>
<text x="184.45" y="2888.4" font-size="44" text-anchor="end" transform="rotate(-0.603 184.45 2888.4)">1350</text>
<text x="185.02" y="2984.3" font-size="44" text-anchor="end" transform="rotate(-0.603 185.02 2984.3)">1300</text>
<text x="185.57" y="3078" font-size="44" text-anchor="end" transform="rotate(-0.603 185.57 3078)">1250</text>
<text x="186.13" y="3172.6" font-size="44" text-anchor="end" transform="rotate(-0.603 186.13 3172.6)">1200</text>
<text x="186.66" y="3262.5" font-size="44" text-anchor="end" transform="rotate(-0.603 186.66 3262.5)">1150</text>
<text x="187.2" y="3353.9" font-size="44" text-anchor="end" transform="rotate(-0.603 187.2 3353.9)">1100</text>
<text x="210.7" y="3402.4" font-size="44" text-anchor="middle" transform="rotate(-0.603 210.7 3402.4)">0</text>
<text x="394.77" y="3400.37" font-size="44" text-anchor="middle" transform="rotate(-0.603 394.77 3400.37)">400</text>
<text x="578.83" y="3398.33" font-size="44" text-anchor="middle" transform="rotate(-0.603 578.83 3398.33)">800</text>
<text x="762.9" y="3396.3" font-size="44" text-anchor="middle" transform="rotate(-0.603 762.9 3396.3)">1200</text>
<text x="946.97" y="3394.27" font-size="44" text-anchor="middle" transform="rotate(-0.603 946.97 3394.27)">1600</text>
<text x="1131.03" y="3392.23" font-size="44" text-anchor="middle" transform="rotate(-0.603 1131.03 3392.23)">2000</text>
<text x="1315.1" y="3390.2" font-size="44" text-anchor="middle" transform="rotate(-0.603 1315.1 3390.2)">2400</text>
<text x="449.78" y="104.3" font-size="46" font-weight="bold" transform="rotate(-0.511 449.78 104.3)" textLength="181.23" lengthAdjust="spacingAndGlyphs">Existing</text>
<text x="654.79" y="102.48" font-size="46" font-weight="bold" transform="rotate(-0.511 654.79 102.48)" textLength="180.82" lengthAdjust="spacingAndGlyphs">Climate,</text>
<text x="855.44" y="100.69" font-size="46" font-weight="bold" transform="rotate(-0.511 855.44 100.69)" textLength="57.73" lengthAdjust="spacingAndGlyphs">ΔT</text>
<text x="934.41" y="99.98" font-size="46" font-weight="bold" transform="rotate(-0.511 934.41 99.98)" textLength="27.95" lengthAdjust="spacingAndGlyphs">=</text>
<text x="986.15" y="99.52" font-size="46" font-weight="bold" transform="rotate(-0.511 986.15 99.52)" textLength="28.88" lengthAdjust="spacingAndGlyphs">0</text>
<text x="1033.48" y="99.1" font-size="46" font-weight="bold" transform="rotate(-0.511 1033.48 99.1)" textLength="54.25" lengthAdjust="spacingAndGlyphs">°C</text>
<text x="640.3" y="982.8" font-size="47" font-weight="bold" transform="rotate(-0.574 640.3 982.8)" textLength="55.85" lengthAdjust="spacingAndGlyphs">ΔT</text>
<text x="716.96" y="982.03" font-size="47" font-weight="bold" transform="rotate(-0.574 716.96 982.03)" textLength="28.65" lengthAdjust="spacingAndGlyphs">=</text>
<text x="765.94" y="981.54" font-size="47" font-weight="bold" transform="rotate(-0.574 765.94 981.54)" textLength="20.8" lengthAdjust="spacingAndGlyphs">1</text>
<text x="812.7" y="981.07" font-size="47" font-weight="bold" transform="rotate(-0.574 812.7 981.07)" textLength="51.04" lengthAdjust="spacingAndGlyphs">°C</text>
<text x="652.05" y="1873.49" font-size="47" font-weight="bold" transform="rotate(-0.578 652.05 1873.49)" textLength="54.29" lengthAdjust="spacingAndGlyphs">ΔT</text>
<text x="726.95" y="1872.73" font-size="47" font-weight="bold" transform="rotate(-0.578 726.95 1872.73)" textLength="28.88" lengthAdjust="spacingAndGlyphs">=</text>
<text x="775.87" y="1872.24" font-size="47" font-weight="bold" transform="rotate(-0.578 775.87 1872.24)" textLength="26.22" lengthAdjust="spacingAndGlyphs">2</text>
<text x="822.73" y="1871.77" font-size="47" font-weight="bold" transform="rotate(-0.578 822.73 1871.77)" textLength="52.75" lengthAdjust="spacingAndGlyphs">°C</text>
<text x="652" y="2753.54" font-size="47" font-weight="bold" transform="rotate(-0.603 652 2753.54)" textLength="55.75" lengthAdjust="spacingAndGlyphs">ΔT</text>
<text x="730.08" y="2752.71" font-size="47" font-weight="bold" transform="rotate(-0.603 730.08 2752.71)" textLength="27.02" lengthAdjust="spacingAndGlyphs">=</text>
<text x="779.29" y="2752.2" font-size="47" font-weight="bold" transform="rotate(-0.603 779.29 2752.2)" textLength="22.53" lengthAdjust="spacingAndGlyphs">4</text>
<text x="824.3" y="2751.72" font-size="47" font-weight="bold" transform="rotate(-0.603 824.3 2751.72)" textLength="51.15" lengthAdjust="spacingAndGlyphs">°C</text>
<text x="1219.88" y="93.52" font-size="48" transform="rotate(-0.511 1219.88 93.52)" textLength="25.12" lengthAdjust="spacingAndGlyphs">a</text>
<text x="1229.09" y="974.43" font-size="44" transform="rotate(-0.574 1229.09 974.43)" textLength="25.1" lengthAdjust="spacingAndGlyphs">b</text>
<text x="1240.6" y="1867.13" font-size="45" transform="rotate(-0.578 1240.6 1867.13)" textLength="24.7" lengthAdjust="spacingAndGlyphs">c</text>
<text x="1247.29" y="2743.14" font-size="45" transform="rotate(-0.603 1247.29 2743.14)" textLength="27.95" lengthAdjust="spacingAndGlyphs">d</text>
<text x="602.26" y="812.98" font-size="44" font-weight="bold" transform="rotate(-0.511 602.26 812.98)" textLength="195.95" lengthAdjust="spacingAndGlyphs">Distance</text>
<text x="828.13" y="812.43" font-size="44" font-weight="bold" transform="rotate(-0.511 828.13 812.43)" textLength="74.15" lengthAdjust="spacingAndGlyphs">(m)</text>
<text x="603.25" y="1691.29" font-size="44" font-weight="bold" transform="rotate(-0.574 603.25 1691.29)" textLength="196.26" lengthAdjust="spacingAndGlyphs">Distance</text>
<text x="828.35" y="1690.68" font-size="44" font-weight="bold" transform="rotate(-0.574 828.35 1690.68)" textLength="76.5" lengthAdjust="spacingAndGlyphs">(m)</text>
<text x="620.62" y="2584.01" font-size="44" font-weight="bold" transform="rotate(-0.578 620.62 2584.01)" textLength="198.31" lengthAdjust="spacingAndGlyphs">Distance</text>
<text x="845.69" y="2583.4" font-size="44" font-weight="bold" transform="rotate(-0.578 845.69 2583.4)" textLength="78.53" lengthAdjust="spacingAndGlyphs">(m)</text>
<text x="622.65" y="3461.74" font-size="44" font-weight="bold" transform="rotate(-0.603 622.65 3461.74)" textLength="196.26" lengthAdjust="spacingAndGlyphs">Distance</text>
<text x="849.62" y="3461.09" font-size="44" font-weight="bold" transform="rotate(-0.603 849.62 3461.09)" textLength="74.47" lengthAdjust="spacingAndGlyphs">(m)</text>
<text x="48.5" y="526.02" font-size="43" font-weight="bold" transform="rotate(-90.511 48.5 526.02)" textLength="214.01" lengthAdjust="spacingAndGlyphs">Elevation</text>
<text x="48.5" y="282.49" font-size="43" font-weight="bold" transform="rotate(-90.511 48.5 282.49)" textLength="74.68" lengthAdjust="spacingAndGlyphs">(m)</text>
<text x="52.4" y="1403.19" font-size="43" font-weight="bold" transform="rotate(-90.574 52.4 1403.19)" textLength="212.15" lengthAdjust="spacingAndGlyphs">Elevation</text>
<text x="52.4" y="1163.32" font-size="43" font-weight="bold" transform="rotate(-90.574 52.4 1163.32)" textLength="72.44" lengthAdjust="spacingAndGlyphs">(m)</text>
<text x="62" y="2296.3" font-size="43" font-weight="bold" transform="rotate(-90.578 62 2296.3)" textLength="219.36" lengthAdjust="spacingAndGlyphs">Elevation</text>
<text x="62" y="2049.02" font-size="43" font-weight="bold" transform="rotate(-90.578 62 2049.02)" textLength="72.33" lengthAdjust="spacingAndGlyphs">(m)</text>
<text x="68.7" y="3175.61" font-size="43" font-weight="bold" transform="rotate(-90.603 68.7 3175.61)" textLength="220.08" lengthAdjust="spacingAndGlyphs">Elevation</text>
<text x="68.7" y="2926.15" font-size="43" font-weight="bold" transform="rotate(-90.603 68.7 2926.15)" textLength="73.4" lengthAdjust="spacingAndGlyphs">(m)</text>
<text x="1021.65" y="401.38" font-size="33" transform="rotate(-0.511 1021.65 401.38)" textLength="244.59" lengthAdjust="spacingAndGlyphs">t = 0 yrs (1985)</text>
<text x="685.75" y="585.28" font-size="33" transform="rotate(-0.511 685.75 585.28)" textLength="287.92" lengthAdjust="spacingAndGlyphs">t = 100 yrs (2085)</text>
<text x="729.05" y="628.77" font-size="33" transform="rotate(-0.511 729.05 628.77)" textLength="287.22" lengthAdjust="spacingAndGlyphs">t = 200 yrs (2185)</text>
<text x="780.16" y="680.07" font-size="33" transform="rotate(-0.511 780.16 680.07)" textLength="263.08" lengthAdjust="spacingAndGlyphs">t = 50 yrs (2035)</text>
<text x="927.05" y="1204.71" font-size="33" transform="rotate(-0.574 927.05 1204.71)" textLength="243.48" lengthAdjust="spacingAndGlyphs">t = 0 yrs (1985)</text>
<text x="290.46" y="1273.71" font-size="33" transform="rotate(-0.574 290.46 1273.71)" textLength="283.08" lengthAdjust="spacingAndGlyphs">t = 200 yrs (2185)</text>
<text x="931.35" y="2086.23" font-size="33" transform="rotate(-0.578 931.35 2086.23)" textLength="246.52" lengthAdjust="spacingAndGlyphs">t = 0 yrs (1985)</text>
<text x="243.14" y="2198.95" font-size="33" transform="rotate(-0.578 243.14 2198.95)" textLength="288.83" lengthAdjust="spacingAndGlyphs">t = 160 yrs (2145)</text>
<text x="929.95" y="2961.89" font-size="33" transform="rotate(-0.603 929.95 2961.89)" textLength="246.52" lengthAdjust="spacingAndGlyphs">t = 0 yrs (1985)</text>
<text x="313.34" y="3080.61" font-size="33" transform="rotate(-0.603 313.34 3080.61)" textLength="288.83" lengthAdjust="spacingAndGlyphs">t = 100 yrs (2085)</text>
<text x="525.73" y="612.11" font-size="37" transform="rotate(-0.511 525.73 612.11)" textLength="69.14" lengthAdjust="spacingAndGlyphs">bed</text>
<text x="528.59" y="1489.05" font-size="37" transform="rotate(-0.574 528.59 1489.05)" textLength="70.12" lengthAdjust="spacingAndGlyphs">bed</text>
</g>
</g>
</svg></body></html>
